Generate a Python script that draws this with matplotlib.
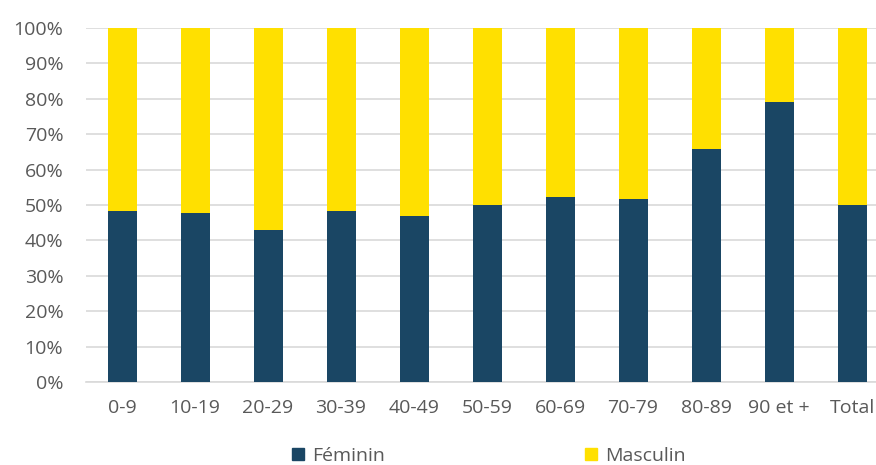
import matplotlib
matplotlib.use("Agg")
import matplotlib.pyplot as plt
from matplotlib.patches import Patch
import numpy as np

categories = ["0-9", "10-19", "20-29", "30-39", "40-49", "50-59", "60-69", "70-79", "80-89", "90 et +", "Total"]
feminin = [48.3, 47.8, 43.0, 48.4, 46.9, 50.0, 52.3, 51.8, 65.9, 79.1, 50.1]
masculin = [100 - v for v in feminin]
series_names = ["Féminin", "Masculin"]
yticks = [0, 10, 20, 30, 40, 50, 60, 70, 80, 90, 100]

NAVY = "#1a4664"
YELLOW = "#ffe000"
TXT = "#595959"

plt.rcParams['font.family'] = ['Open Sans', 'DejaVu Sans']

fig = plt.figure(figsize=(8.76, 4.65), dpi=100)
W, H = 876, 465
ax = fig.add_axes([85.5 / W, 83 / H, (888.5 - 85.5) / W, (382 - 28) / H])

x = np.arange(len(categories))
bw = 29 / 73
ax.bar(x, feminin, width=bw, color=NAVY, zorder=3, label=series_names[0])
ax.bar(x, masculin, bottom=feminin, width=bw, color=YELLOW, zorder=3, label=series_names[1])

ax.set_xlim(-0.5, len(categories) - 0.5)
ax.set_ylim(0, 100)
ax.set_yticks(yticks)
ax.set_yticklabels([f"{t}%" for t in yticks])
ax.set_xticks(x)
ax.set_xticklabels(categories)
ax.yaxis.grid(True, color="#d9d9d9", linewidth=1.2, zorder=0)
ax.set_axisbelow(True)
for s in ["top", "right", "left"]:
    ax.spines[s].set_visible(False)
ax.spines["bottom"].set_color("#d9d9d9")
ax.spines["bottom"].set_linewidth(1.2)
ax.tick_params(axis="both", length=0, labelsize=14, colors=TXT)
ax.tick_params(axis="x", pad=12)
ax.tick_params(axis="y", pad=16)

handles = [Patch(color=NAVY), Patch(color=YELLOW)]
fig.legend(handles, series_names, loc="center", bbox_to_anchor=(489 / W, 1 - 456 / H),
           ncol=2, frameon=False, fontsize=14, labelcolor=TXT,
           handlelength=0.62, handleheight=0.62, handletextpad=0.4, columnspacing=10.3)

fig.savefig("out.png", dpi=100)
